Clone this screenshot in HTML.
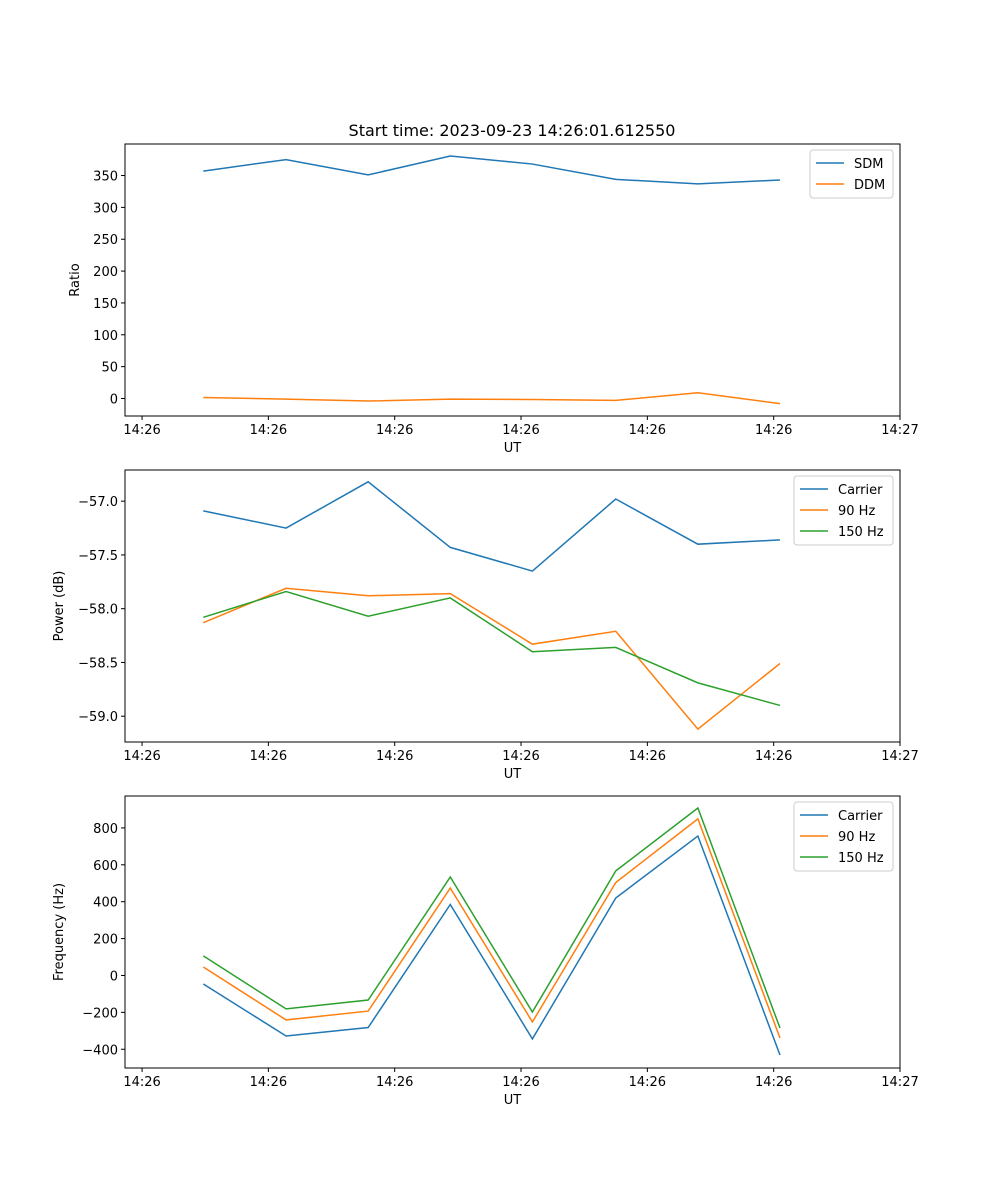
<!DOCTYPE html>
<html><head><meta charset="utf-8"><style>
body{margin:0;background:#fff}
svg{display:block;font-family:"DejaVu Sans","Liberation Sans",sans-serif}
</style></head><body>
<svg id="fig" width="1000" height="1200"></svg>
<script>
const times = [4.85, 11.4, 17.9, 24.4, 30.9, 37.5, 44.0, 50.5];
const xTickVals = [0, 10, 20, 30, 40, 50, 60];
const xTickLabels = ["14:26","14:26","14:26","14:26","14:26","14:26","14:27"];
const sdm = [357, 375, 351, 380.6, 368, 344, 337, 343];
const ddm = [1.5, -1, -4, -1, -1.5, -3, 9, -8];
const pwrCarrier = [-57.09, -57.25, -56.82, -57.43, -57.65, -56.98, -57.40, -57.36];
const pwr90 = [-58.13, -57.81, -57.88, -57.86, -58.33, -58.21, -59.12, -58.51];
const pwr150 = [-58.08, -57.84, -58.07, -57.90, -58.40, -58.36, -58.69, -58.90];
const frqCarrier = [-46, -328, -282, 385, -344, 420, 756, -431];
const frq90 = [46, -241, -193, 474, -252, 504, 849, -339];
const frq150 = [106, -181, -133, 534, -198, 567, 908, -285];
const ticks1 = [0,50,100,150,200,250,300,350];
const ticks2 = [-59.0,-58.5,-58.0,-57.5,-57.0];
const ticks3 = [-400,-200,0,200,400,600,800];

const NS="http://www.w3.org/2000/svg", svg=document.getElementById('fig');
function el(t,a,p){const e=document.createElementNS(NS,t);for(const k in a)e.setAttribute(k,a[k]);(p||svg).appendChild(e);return e;}
const L=125,R=900,xmin=-1.35,xmax=60.0;
const xs=v=>L+(v-xmin)/(xmax-xmin)*(R-L);
const C=['#1f77b4','#ff7f0e','#2ca02c'];

function panel(name,top,bottom,ymin,ymax,yticks,fmt,ylabel,series,labels,legW){
  const g=el('g',{});
  
  
  const ys=v=>bottom-(v-ymin)/(ymax-ymin)*(bottom-top);
  series.forEach((s,i)=>{
    const pl=el('polyline',{points:s.map((v,j)=>xs(times[j])+','+ys(v)).join(' '),fill:'none',stroke:C[i],'stroke-width':1.5},g);
    
    
  });
  const fr=el('rect',{x:L,y:top,width:R-L,height:bottom-top,fill:'none',stroke:'#000','stroke-width':1},g);
  
  
  xTickVals.forEach((v,i)=>{
    const x=xs(v);
    el('line',{x1:x,x2:x,y1:bottom,y2:bottom+4,stroke:'#000'},g);
    const t=el('text',{x:x,y:bottom+18,'font-size':13,'text-anchor':'middle'},g);t.textContent=xTickLabels[i];
    
    
  });
  yticks.forEach(v=>{
    const y=ys(v);
    el('line',{x1:L-4,x2:L,y1:y,y2:y,stroke:'#000'},g);
    const t=el('text',{x:L-7,y:y+5,'font-size':13,'text-anchor':'end'},g);t.textContent=fmt(v);
    
    
  });
  const xl=el('text',{x:(L+R)/2,y:bottom+36,'font-size':13,'text-anchor':'middle'},g);xl.textContent='UT';
  
  
  const cy=(top+bottom)/2;
  const yl=el('text',{x:0,y:0,'font-size':13,'text-anchor':'middle',transform:`translate(${L-(ylabel==='Ratio'?46:62)},${cy}) rotate(-90)`},g);yl.textContent=ylabel;
  
  
  const lx=R-7-legW, ly=top+6, lh=labels.length*21+6;
  const lg=el('g',{},g);
  
  
  el('rect',{x:lx,y:ly,width:legW,height:lh,rx:3,fill:'#fff','fill-opacity':0.8,stroke:'#ccc'},lg);
  labels.forEach((lab,i)=>{
    const yy=ly+13+i*21;
    el('line',{x1:lx+6,x2:lx+34,y1:yy,y2:yy,stroke:C[i],'stroke-width':1.5},lg);
    const t=el('text',{x:lx+44,y:yy+5,'font-size':13},lg);t.textContent=lab;
    
    
  });
}
const tt=el('text',{x:512,y:136,'font-size':16,'text-anchor':'middle'});tt.textContent='Start time: 2023-09-23 14:26:01.612550';


panel('ratio',144,416,-27.5,399.5,ticks1,v=>String(v),'Ratio',[sdm,ddm],['SDM','DDM'],83);
panel('power',470,742,-59.24,-56.71,ticks2,v=>(v<0?'\u2212':'')+Math.abs(v).toFixed(1),'Power (dB)',[pwrCarrier,pwr90,pwr150],['Carrier','90 Hz','150 Hz'],99);
panel('frequency',796,1068,-501.6,973,ticks3,v=>(v<0?'\u2212':'')+Math.abs(v),'Frequency (Hz)',[frqCarrier,frq90,frq150],['Carrier','90 Hz','150 Hz'],99);
</script>
</body></html>
